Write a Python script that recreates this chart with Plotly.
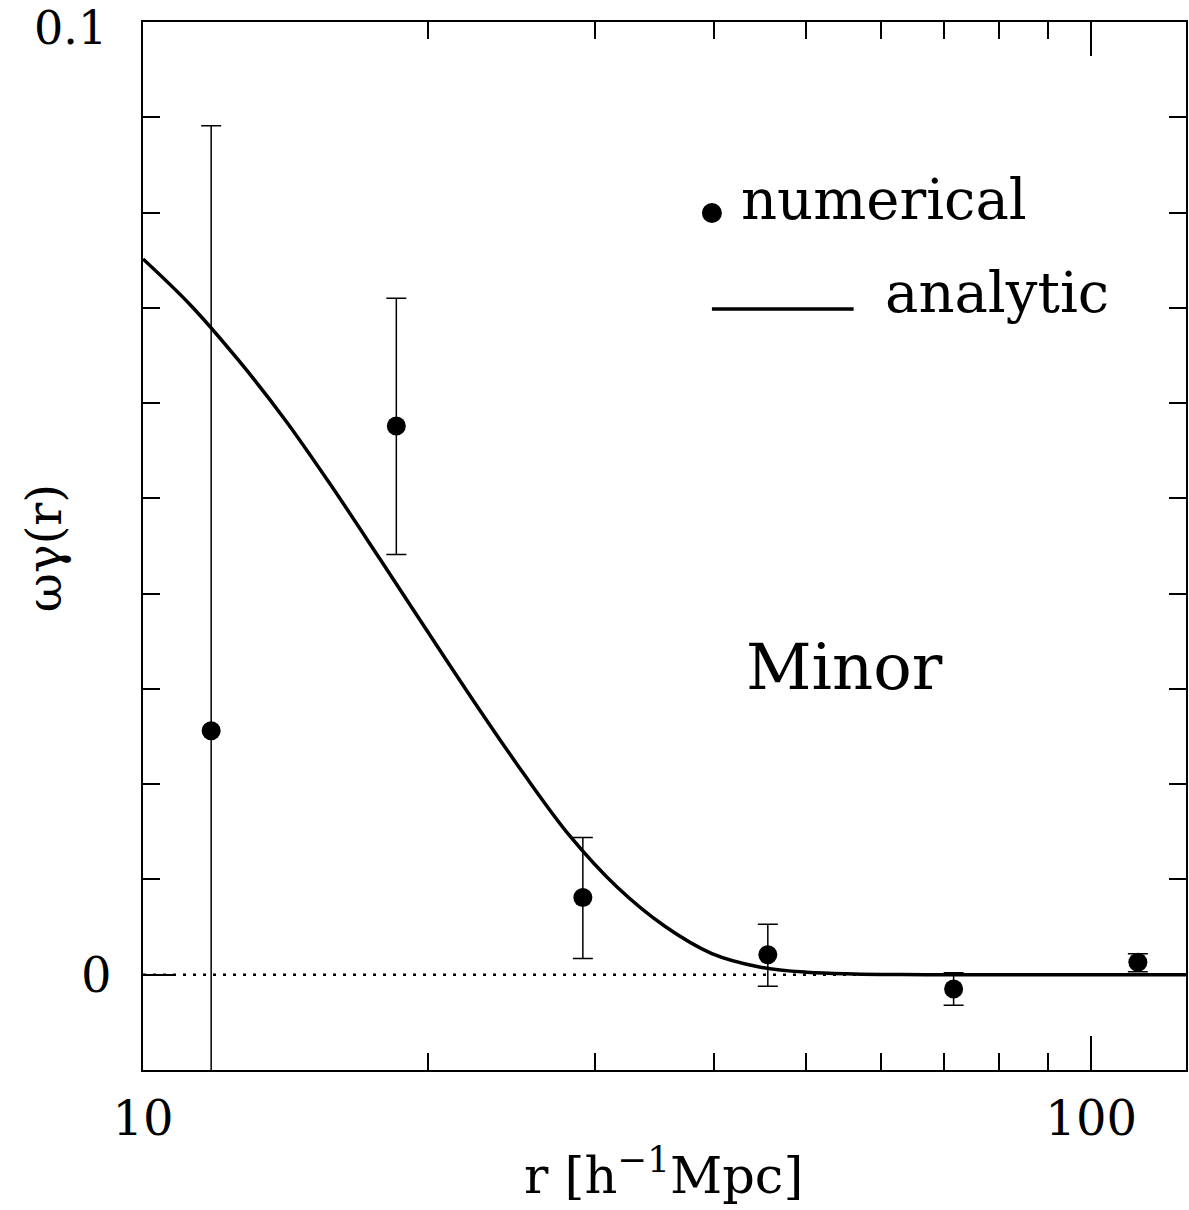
import plotly.graph_objects as go

# ---- data ----
r_num = [11.8, 18.5, 29.1, 45.6, 71.6, 112.0]
w_num = [0.0256, 0.0576, 0.0081, 0.0021, -0.0015, 0.0013]
err_plus = [0.0635, 0.0134, 0.0063, 0.0032, 0.0017, 0.0009]
err_minus = [0.0366, 0.0135, 0.0064, 0.0033, 0.0017, 0.0010]

r_ana = [10.0, 11.22, 12.59, 14.13, 15.85, 17.78, 19.95, 22.39, 25.12, 28.18, 31.62,
         35.48, 39.81, 44.67, 50.12, 56.23, 63.10, 70.79, 79.43, 89.13, 100.0, 112.2, 125.9]
w_ana = [0.07513, 0.07030, 0.06458, 0.05820, 0.05111, 0.04363, 0.03605, 0.02853,
         0.02130, 0.01459, 0.00920, 0.00511, 0.00222, 0.00082, 0.00026, 0.00008,
         0.00002, 0.0, 0.0, 0.0, 0.0, 0.0, 0.0]

x_major = [10, 100]
x_major_text = ["10", "100"]
x_minor = [20, 30, 40, 50, 60, 70, 80, 90]
y_major = [0]
y_major_text = ["0"]
y_top_label = "0.1"
y_minor = [-0.01, 0.01, 0.02, 0.03, 0.04, 0.05, 0.06, 0.07, 0.08, 0.09]

FONT = "DejaVu Serif"
W, H = 1189, 1210
L, R, T, B = 143, 1, 22, 140
pw, ph = W - L - R, H - T - B


def px(x):
    return (x - L) / pw


def py(y):
    return (H - B - y) / ph


fig = go.Figure()

fig.add_trace(go.Scatter(
    x=r_ana, y=w_ana, mode="lines",
    line=dict(color="black", width=3.5, shape="spline", smoothing=1.0),
    showlegend=False, hoverinfo="skip"))

fig.add_trace(go.Scatter(
    x=r_num, y=w_num, mode="markers",
    marker=dict(color="black", size=19),
    error_y=dict(type="data", symmetric=False, array=err_plus, arrayminus=err_minus,
                 color="black", thickness=1.5, width=10),
    showlegend=False, cliponaxis=True))

# dotted zero line
fig.add_shape(type="line", xref="paper", yref="y", x0=0, x1=1, y0=0, y1=0,
              line=dict(color="black", width=2.5, dash="3px,7px"), layer="below")

# legend symbols
fig.add_shape(type="circle", xref="paper", yref="paper", xsizemode="pixel", ysizemode="pixel",
              xanchor=px(713), yanchor=py(213), x0=-10, x1=10, y0=-10, y1=10,
              fillcolor="black", line=dict(color="black", width=0))
fig.add_shape(type="line", xref="paper", yref="paper", x0=px(713), x1=px(855),
              y0=py(309), y1=py(309), line=dict(color="black", width=3.5))

ann_font = dict(family=FONT, size=56, color="black")
fig.add_annotation(text="numerical", xref="paper", yref="paper", x=px(740), y=py(199),
                   xanchor="left", yanchor="middle", showarrow=False, font=ann_font)
fig.add_annotation(text="analytic", xref="paper", yref="paper", x=px(884), y=py(293),
                   xanchor="left", yanchor="middle", showarrow=False, font=ann_font)
fig.add_annotation(text="Minor", xref="paper", yref="paper", x=px(846), y=py(667),
                   xanchor="center", yanchor="middle", showarrow=False,
                   font=dict(family=FONT, size=64, color="black"))
fig.add_annotation(text="r [h<sup>−1</sup>Mpc]", xref="paper", yref="paper", x=px(664), y=py(1172),
                   xanchor="center", yanchor="middle", showarrow=False,
                   font=dict(family=FONT, size=51, color="black"))
fig.add_annotation(text="ωγ(r)", xref="paper", yref="paper", x=px(44), y=py(548),
                   xanchor="center", yanchor="middle", showarrow=False, textangle=-90,
                   font=dict(family=FONT, size=48, color="black"))
# top y tick label (placed at the axis end, kept inside the page)
fig.add_annotation(text=y_top_label, xref="paper", yref="paper", x=px(108), y=py(0),
                   xanchor="right", yanchor="top", showarrow=False, borderpad=0,
                   font=dict(family=FONT, size=46, color="black"))

fig.update_xaxes(
    type="log", range=[1, 2.1], showgrid=False, zeroline=False,
    showline=True, linecolor="black", linewidth=1.5, mirror="ticks",
    tickmode="array", tickvals=x_major, ticktext=x_major_text,
    ticks="inside", ticklen=34, tickwidth=1.5, tickcolor="black",
    ticklabelstandoff=6,
    tickfont=dict(family=FONT, size=48, color="black"),
    minor=dict(tickmode="array", tickvals=x_minor, ticks="inside", ticklen=17,
               tickwidth=1.5, tickcolor="black", showgrid=False))

fig.update_yaxes(
    range=[-0.01, 0.1], showgrid=False, zeroline=False,
    showline=True, linecolor="black", linewidth=1.5, mirror="ticks",
    tickmode="array", tickvals=y_major, ticktext=y_major_text,
    ticks="inside", ticklen=32, tickwidth=1.5, tickcolor="black",
    ticklabelstandoff=20,
    tickfont=dict(family=FONT, size=48, color="black"),
    minor=dict(tickmode="array", tickvals=y_minor, ticks="inside", ticklen=17,
               tickwidth=1.5, tickcolor="black", showgrid=False))

fig.update_layout(
    width=W, height=H, autosize=False,
    margin=dict(l=L, r=R, t=T, b=B, pad=0),
    plot_bgcolor="white", paper_bgcolor="white",
    showlegend=False)

fig.write_html("out.html", config={"displayModeBar": False},
               post_script="document.body.style.margin='0';document.body.style.overflow='hidden';")
